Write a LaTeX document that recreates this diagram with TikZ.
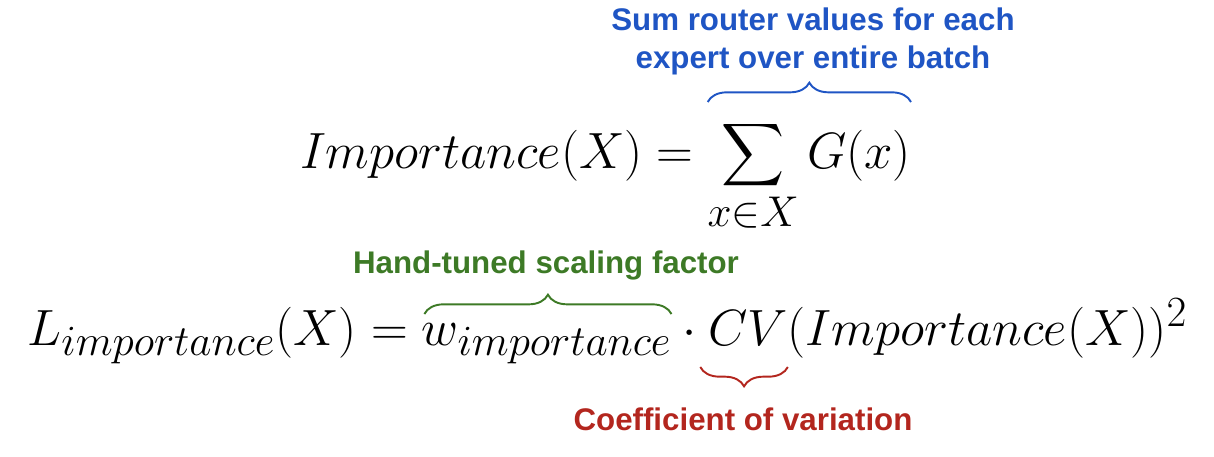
\RequirePackage{fix-cm}
\documentclass[tikz,border=0pt]{standalone}
\usepackage{exscale}
\usepackage{fontspec}
\newfontfamily\notefont{Liberation Sans}
\DeclareMathSizes{29}{29}{24.5}{17}
\usetikzlibrary{decorations.pathreplacing}
\definecolor{sumblue}{HTML}{1F55C4}
\definecolor{factorgreen}{HTML}{3D7A26}
\definecolor{cvred}{HTML}{B3261E}

\begin{document}
\begin{tikzpicture}
\tikzstyle{eq}=[inner sep=0pt,outer sep=0pt,anchor=base west,font=\fontsize{29}{34}\selectfont]
\tikzstyle{note}=[inner sep=0pt,align=center,font=\notefont\bfseries\fontsize{17.8}{21.6}\selectfont]
\tikzstyle{topbrace}=[decorate,decoration={brace,amplitude=11pt},line width=1.1pt]
\tikzstyle{lowbrace}=[decorate,decoration={brace,mirror,amplitude=11pt},line width=1.1pt]
\useasboundingbox (0,0) rectangle (24.28,-9.12);

% first line
\path (6.0,-3.36) node[eq](imp){$Importance(X) = {}$};
\path (imp.base east) node[eq](sumG){$\displaystyle\sum_{x\in X} G(x)$};

% second line
\path (0.55,-6.9) node[eq](loss){$L_{importance}(X) = {}$};
\path (loss.base east) node[eq](weight){$w_{importance}$};
\path (weight.base east) node[eq](dot){${}\cdot{}$};
\path (dot.base east) node[eq](cv){$CV$};
\path (cv.base east) node[eq](rest){$(Importance(X))^2$};

% notes
\path (16.26,-0.82) node[note,text=sumblue](sumnote){Sum router values for each\\expert over entire batch};
\path (10.92,-5.3) node[note,text=factorgreen](factornote){Hand-tuned scaling factor};
\path (14.86,-8.38) node[note,text=cvred](cvnote){Coefficient of variation};

\draw[topbrace,sumblue] ([yshift=1.32cm]sumG.base west) -- ([yshift=1.32cm]sumG.base east);
\draw[topbrace,factorgreen] ([yshift=0.62cm,xshift=0.05cm]weight.base west) -- ([yshift=0.62cm]weight.base east);
\draw[lowbrace,cvred] ([yshift=-0.44cm,xshift=-0.16cm]cv.base west) -- ([yshift=-0.44cm]cv.base east);
\end{tikzpicture}
\end{document}
